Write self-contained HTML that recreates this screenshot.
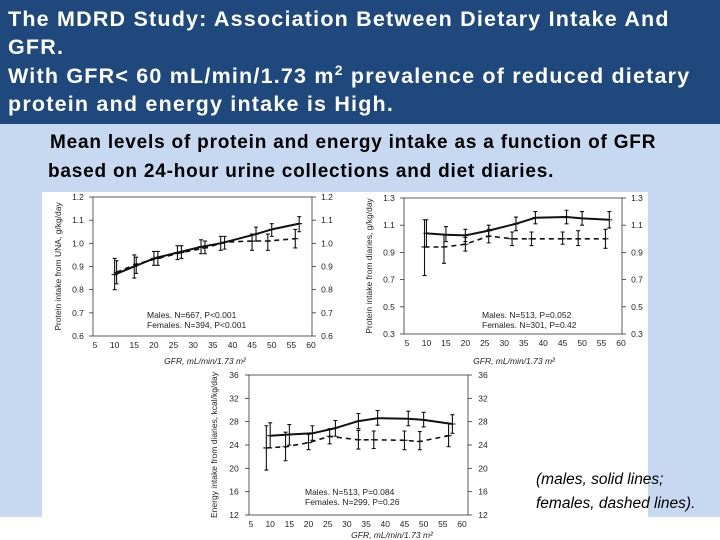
<!DOCTYPE html>
<html><head><meta charset="utf-8">
<style>
body{margin:0;width:720px;height:540px;overflow:hidden;background:#fff;font-family:"Liberation Sans",sans-serif;position:relative}
#hdr{position:absolute;left:0;top:0;width:720px;height:124px;background:#1f497d;color:#fff}
#hdr div{position:absolute;left:8px;font-weight:bold;font-size:21.5px;letter-spacing:1.2px;white-space:nowrap;line-height:26px}
#hdr sup{font-size:14px;line-height:0;vertical-align:8px}
#band{position:absolute;left:0;top:124px;width:720px;height:393px;background:#c6d9f1}
#fig{position:absolute;left:42px;top:192px;width:606px;height:348px;background:#fff}
.sub{position:absolute;font-family:"Liberation Sans",sans-serif;font-weight:bold;font-size:19px;letter-spacing:0.8px;color:#000;white-space:nowrap}
.cap{position:absolute;left:536px;font-style:italic;font-size:15.5px;color:#000;white-space:nowrap}
svg{position:absolute;left:0;top:0}
</style></head><body>
<div id="hdr">
<div style="top:6px">The MDRD Study: Association Between Dietary Intake And</div>
<div style="top:34px">GFR.</div>
<div style="top:63px">With GFR&lt; 60 mL/min/1.73 m<sup>2</sup> prevalence of reduced dietary</div>
<div style="top:91px">protein and energy intake is High.</div>
</div>
<div id="band"></div>
<div id="fig"></div>
<div class="sub" style="left:50px;top:132px">Mean levels of protein and energy intake as a function of GFR</div>
<div class="sub" style="left:48px;top:161px">based on 24-hour urine collections and diet diaries.</div>
<div class="cap" style="top:471px">(males, solid lines;</div>
<div class="cap" style="top:495px">females, dashed lines).</div>
<svg id="chart" width="720" height="540"></svg>
<script>
// Chart 1: protein intake from UNA
const c1MaleX=[10,15,20,26,32,37,46,50,57];
const c1MaleY=[0.865,0.90,0.935,0.96,0.985,1.0,1.04,1.06,1.085];
const c1MaleLo=[0.80,0.85,0.905,0.93,0.955,0.97,1.01,1.03,1.05];
const c1MaleHi=[0.935,0.95,0.965,0.99,1.015,1.03,1.07,1.085,1.115];
const c1FemX=[10.5,15.5,21,27,33,38,45,49,56];
const c1FemY=[0.875,0.91,0.935,0.96,0.98,1.005,1.01,1.01,1.02];
const c1FemLo=[0.825,0.87,0.905,0.935,0.955,0.975,0.97,0.97,0.98];
const c1FemHi=[0.925,0.94,0.965,0.99,1.01,1.03,1.04,1.04,1.06];
const c1YTicks=["0.6","0.7","0.8","0.9","1.0","1.1","1.2"];
// Chart 2: protein intake from diaries
const c2MaleX=[10,15,20,26,33,38,46,50,57];
const c2MaleY=[1.04,1.03,1.025,1.06,1.11,1.155,1.16,1.15,1.14];
const c2MaleLo=[0.94,0.98,0.98,1.02,1.06,1.11,1.11,1.10,1.08];
const c2MaleHi=[1.14,1.09,1.07,1.10,1.16,1.20,1.21,1.20,1.20];
const c2FemX=[9.5,14.5,20,26,32,37,45,49,56];
const c2FemY=[0.94,0.94,0.96,1.02,1.0,1.0,1.0,1.0,1.0];
const c2FemLo=[0.73,0.82,0.91,0.97,0.95,0.95,0.96,0.95,0.93];
const c2FemHi=[1.14,1.03,1.01,1.07,1.05,1.05,1.05,1.06,1.07];
const c2YTicks=["0.3","0.5","0.7","0.9","1.1","1.3"];
// Chart 3: energy intake from diaries
const c3MaleX=[10,15,21,27,33,38,46,50,57.5];
const c3MaleY=[25.6,25.8,26.0,26.9,28.1,28.6,28.5,28.3,27.6];
const c3MaleLo=[23.5,24.0,24.8,25.5,26.8,27.4,27.3,27.1,26.0];
const c3MaleHi=[27.8,27.5,27.3,28.2,29.4,29.9,29.8,29.6,29.2];
const c3FemX=[9,14,20,25.5,33,37,45,49,56.5];
const c3FemY=[23.5,23.7,24.4,25.5,24.9,24.9,24.8,24.6,25.6];
const c3FemLo=[19.7,21.3,23.2,24.2,23.3,23.4,23.2,23.2,23.7];
const c3FemHi=[27.3,26.2,25.8,26.8,26.5,26.4,26.4,26.3,27.7];
const c3YTicks=["12","16","20","24","28","32","36"];
const xTicks=["5","10","15","20","25","30","35","40","45","50","55","60"];

const svg=document.getElementById('chart');
const NS='http://www.w3.org/2000/svg';
function mk(tag,attrs,parent){const e=document.createElementNS(NS,tag);for(const k in attrs)e.setAttribute(k,attrs[k]);(parent||svg).appendChild(e);return e;}
function txt(x,y,s,size,anchor,parent,extra){const t=mk('text',Object.assign({x:x,y:y,'font-size':size,'text-anchor':anchor||'middle',fill:'#222','font-family':'Liberation Sans, sans-serif'},extra||{}),parent);t.textContent=s;return t;}

function drawChart(name,box,ymin,ymax,yTicks,series,ylab,legend1,legend2,legY,legX,xTitleX,xTitleY){
  const g=mk('g',{});
  
  
  const xs=v=>box.x0+(v-5)/55*(box.x1-box.x0);
  const ys=v=>box.yb-(v-ymin)/(ymax-ymin)*(box.yb-box.yt);
  const frame=mk('rect',{x:box.l,y:box.yt,width:box.r-box.l,height:box.yb-box.yt,fill:'none',stroke:'#333','stroke-width':0.8},g);
  
  
  yTicks.forEach(t=>{const v=parseFloat(t);const y=ys(v);
    mk('line',{x1:box.l-4,x2:box.l,y1:y,y2:y,stroke:'#333','stroke-width':0.8},g);
    mk('line',{x1:box.r,x2:box.r+4,y1:y,y2:y,stroke:'#333','stroke-width':0.8},g);
    const a=txt(box.l-15,y+3,t,8.5,'middle',g);
    
    
    const b=txt(box.r+15,y+3,t,8.5,'middle',g);
    
    
  });
  xTicks.forEach(t=>{const v=parseFloat(t);const x=xs(v);
    const a=txt(x,box.yb+12,t,8.5,'middle',g);
    
    
  });
  series.forEach(s=>{
    const pts=s.x.map((v,i)=>xs(v).toFixed(1)+','+ys(s.y[i]).toFixed(1)).join(' ');
    const pl=mk('polyline',{points:pts,fill:'none',stroke:'#111','stroke-width':s.dash?1.6:2,'stroke-dasharray':s.dash?'5,4':'none','stroke-linejoin':'round'},g);
    
    
    s.x.forEach((v,i)=>{const x=xs(v);
      const eb=mk('path',{d:`M${x},${ys(s.lo[i])}V${ys(s.hi[i])}M${x-2},${ys(s.lo[i])}H${x+2}M${x-2},${ys(s.hi[i])}H${x+2}M${x-3},${ys(s.y[i])}H${x+3}`,stroke:'#111','stroke-width':1.1,fill:'none'},g);
      
      
    });
  });
  const yl=txt(0,0,ylab,8.5,'middle',g,{transform:`translate(${box.l-32},${(box.yt+box.yb)/2}) rotate(-90)`});
  
  
  const l1=txt(legX,legY,legend1,8.5,'start',g);
  
  
  const l2=txt(legX,legY+10,legend2,8.5,'start',g);
  
  
  const xt=txt(xTitleX,xTitleY,'GFR, mL/min/1.73 m²',8.5,'middle',g,{'font-style':'italic'});
  
  
}

drawChart('chart-protein-una',{l:93,r:312,x0:95,x1:311,yt:197,yb:336},0.6,1.2,c1YTicks,
 [{name:'males',x:c1MaleX,y:c1MaleY,lo:c1MaleLo,hi:c1MaleHi,dash:false},
  {name:'females',x:c1FemX,y:c1FemY,lo:c1FemLo,hi:c1FemHi,dash:true}],
 'Protein intake from UNA, g/kg/day','Males. N=667, P<0.001','Females. N=394, P<0.001',318,147,205,364);
drawChart('chart-protein-diaries',{l:404,r:622,x0:407,x1:621,yt:198,yb:334},0.3,1.3,c2YTicks,
 [{name:'males',x:c2MaleX,y:c2MaleY,lo:c2MaleLo,hi:c2MaleHi,dash:false},
  {name:'females',x:c2FemX,y:c2FemY,lo:c2FemLo,hi:c2FemHi,dash:true}],
 'Protein intake from diaries, g/kg/day','Males. N=513, P=0.052','Females. N=301, P=0.42',318,482,514,364);
drawChart('chart-energy-diaries',{l:249,r:468,x0:251,x1:462,yt:375,yb:515},12,36,c3YTicks,
 [{name:'males',x:c3MaleX,y:c3MaleY,lo:c3MaleLo,hi:c3MaleHi,dash:false},
  {name:'females',x:c3FemX,y:c3FemY,lo:c3FemLo,hi:c3FemHi,dash:true}],
 'Energy intake from diaries, kcal/kg/day','Males. N=513, P=0.084','Females. N=299, P=0.26',495,305,392,538);
</script>
</body></html>
